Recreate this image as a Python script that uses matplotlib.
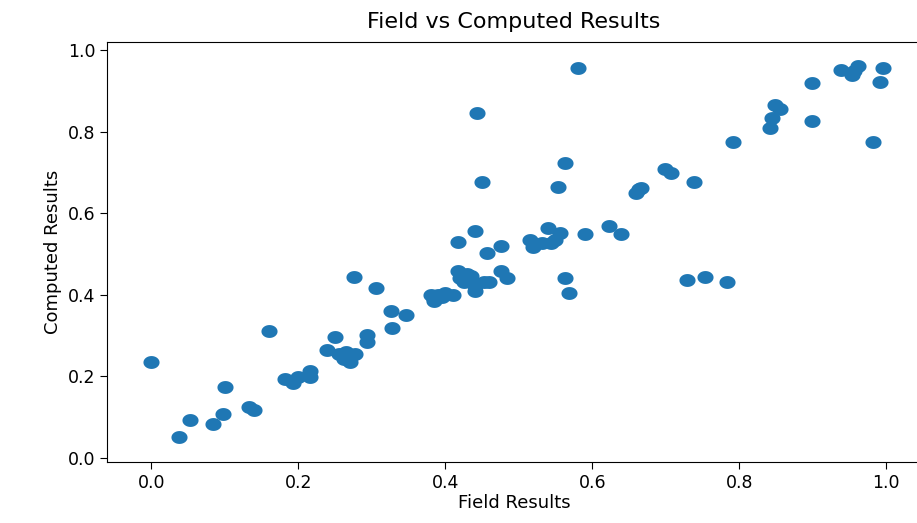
import numpy as np
import matplotlib
matplotlib.use("Agg")
import matplotlib.pyplot as plt

# field results vs computed results
field = [0.000, 0.037, 0.053, 0.084, 0.097, 0.100, 0.133, 0.140, 0.160,
         0.182, 0.193, 0.199, 0.216, 0.216,
         0.239, 0.250, 0.255, 0.262, 0.270, 0.277, 0.265,
         0.293, 0.293, 0.276, 0.306, 0.326, 0.328, 0.347,
         0.380, 0.385, 0.390, 0.400, 0.410, 0.384, 0.395,
         0.417, 0.420, 0.430, 0.425, 0.440, 0.440, 0.453, 0.460, 0.435,
         0.417, 0.440, 0.457, 0.476, 0.476, 0.484,
         0.515, 0.519, 0.540, 0.544, 0.556, 0.549, 0.531,
         0.590, 0.623, 0.639, 0.563, 0.569,
         0.729, 0.753, 0.783,
         0.580, 0.443, 0.563, 0.450, 0.553,
         0.699, 0.707, 0.663, 0.660, 0.667, 0.739,
         0.792, 0.842, 0.845, 0.849, 0.856, 0.899, 0.899,
         0.938, 0.954, 0.962, 0.956, 0.996, 0.992, 0.982]
computed = [0.236, 0.051, 0.093, 0.083, 0.108, 0.173, 0.124, 0.116, 0.311,
            0.193, 0.183, 0.199, 0.212, 0.197,
            0.263, 0.297, 0.255, 0.243, 0.236, 0.255, 0.260,
            0.301, 0.285, 0.444, 0.416, 0.359, 0.318, 0.350,
            0.400, 0.390, 0.400, 0.405, 0.400, 0.385, 0.395,
            0.457, 0.440, 0.450, 0.430, 0.420, 0.410, 0.430, 0.430, 0.445,
            0.530, 0.557, 0.502, 0.520, 0.457, 0.440,
            0.534, 0.518, 0.563, 0.526, 0.551, 0.534, 0.526,
            0.548, 0.569, 0.548, 0.440, 0.405,
            0.435, 0.444, 0.430,
            0.955, 0.846, 0.724, 0.676, 0.663,
            0.708, 0.699, 0.659, 0.649, 0.661, 0.676,
            0.775, 0.808, 0.833, 0.865, 0.855, 0.827, 0.918,
            0.951, 0.939, 0.961, 0.949, 0.955, 0.922, 0.775]

# slightly wide dot, like the reference
t = np.linspace(0, 2 * np.pi, 40)
dot = list(zip(1.25 * np.cos(t), np.sin(t)))

fig = plt.figure(figsize=(9.17, 5.23), dpi=100)
# right spine falls just outside the picture, as in the reference
ax = fig.add_axes([0.117, 0.117, 0.887, 0.803])

ax.scatter(field, computed, s=135, marker=dot, color='#1f77b4', linewidths=0)

ax.set_xlim(-0.06, 1.047)
ax.set_ylim(-0.01, 1.02)
ax.set_xticks([0.0, 0.2, 0.4, 0.6, 0.8, 1.0])
ax.set_yticks([0.0, 0.2, 0.4, 0.6, 0.8, 1.0])
ax.tick_params(labelsize=12.5, length=5)

ax.set_title("Field vs Computed Results", fontsize=16, pad=10)
ax.set_xlabel("Field Results", fontsize=13, labelpad=2)
ax.set_ylabel("Computed Results", fontsize=13)

fig.savefig("out.png", dpi=100)
